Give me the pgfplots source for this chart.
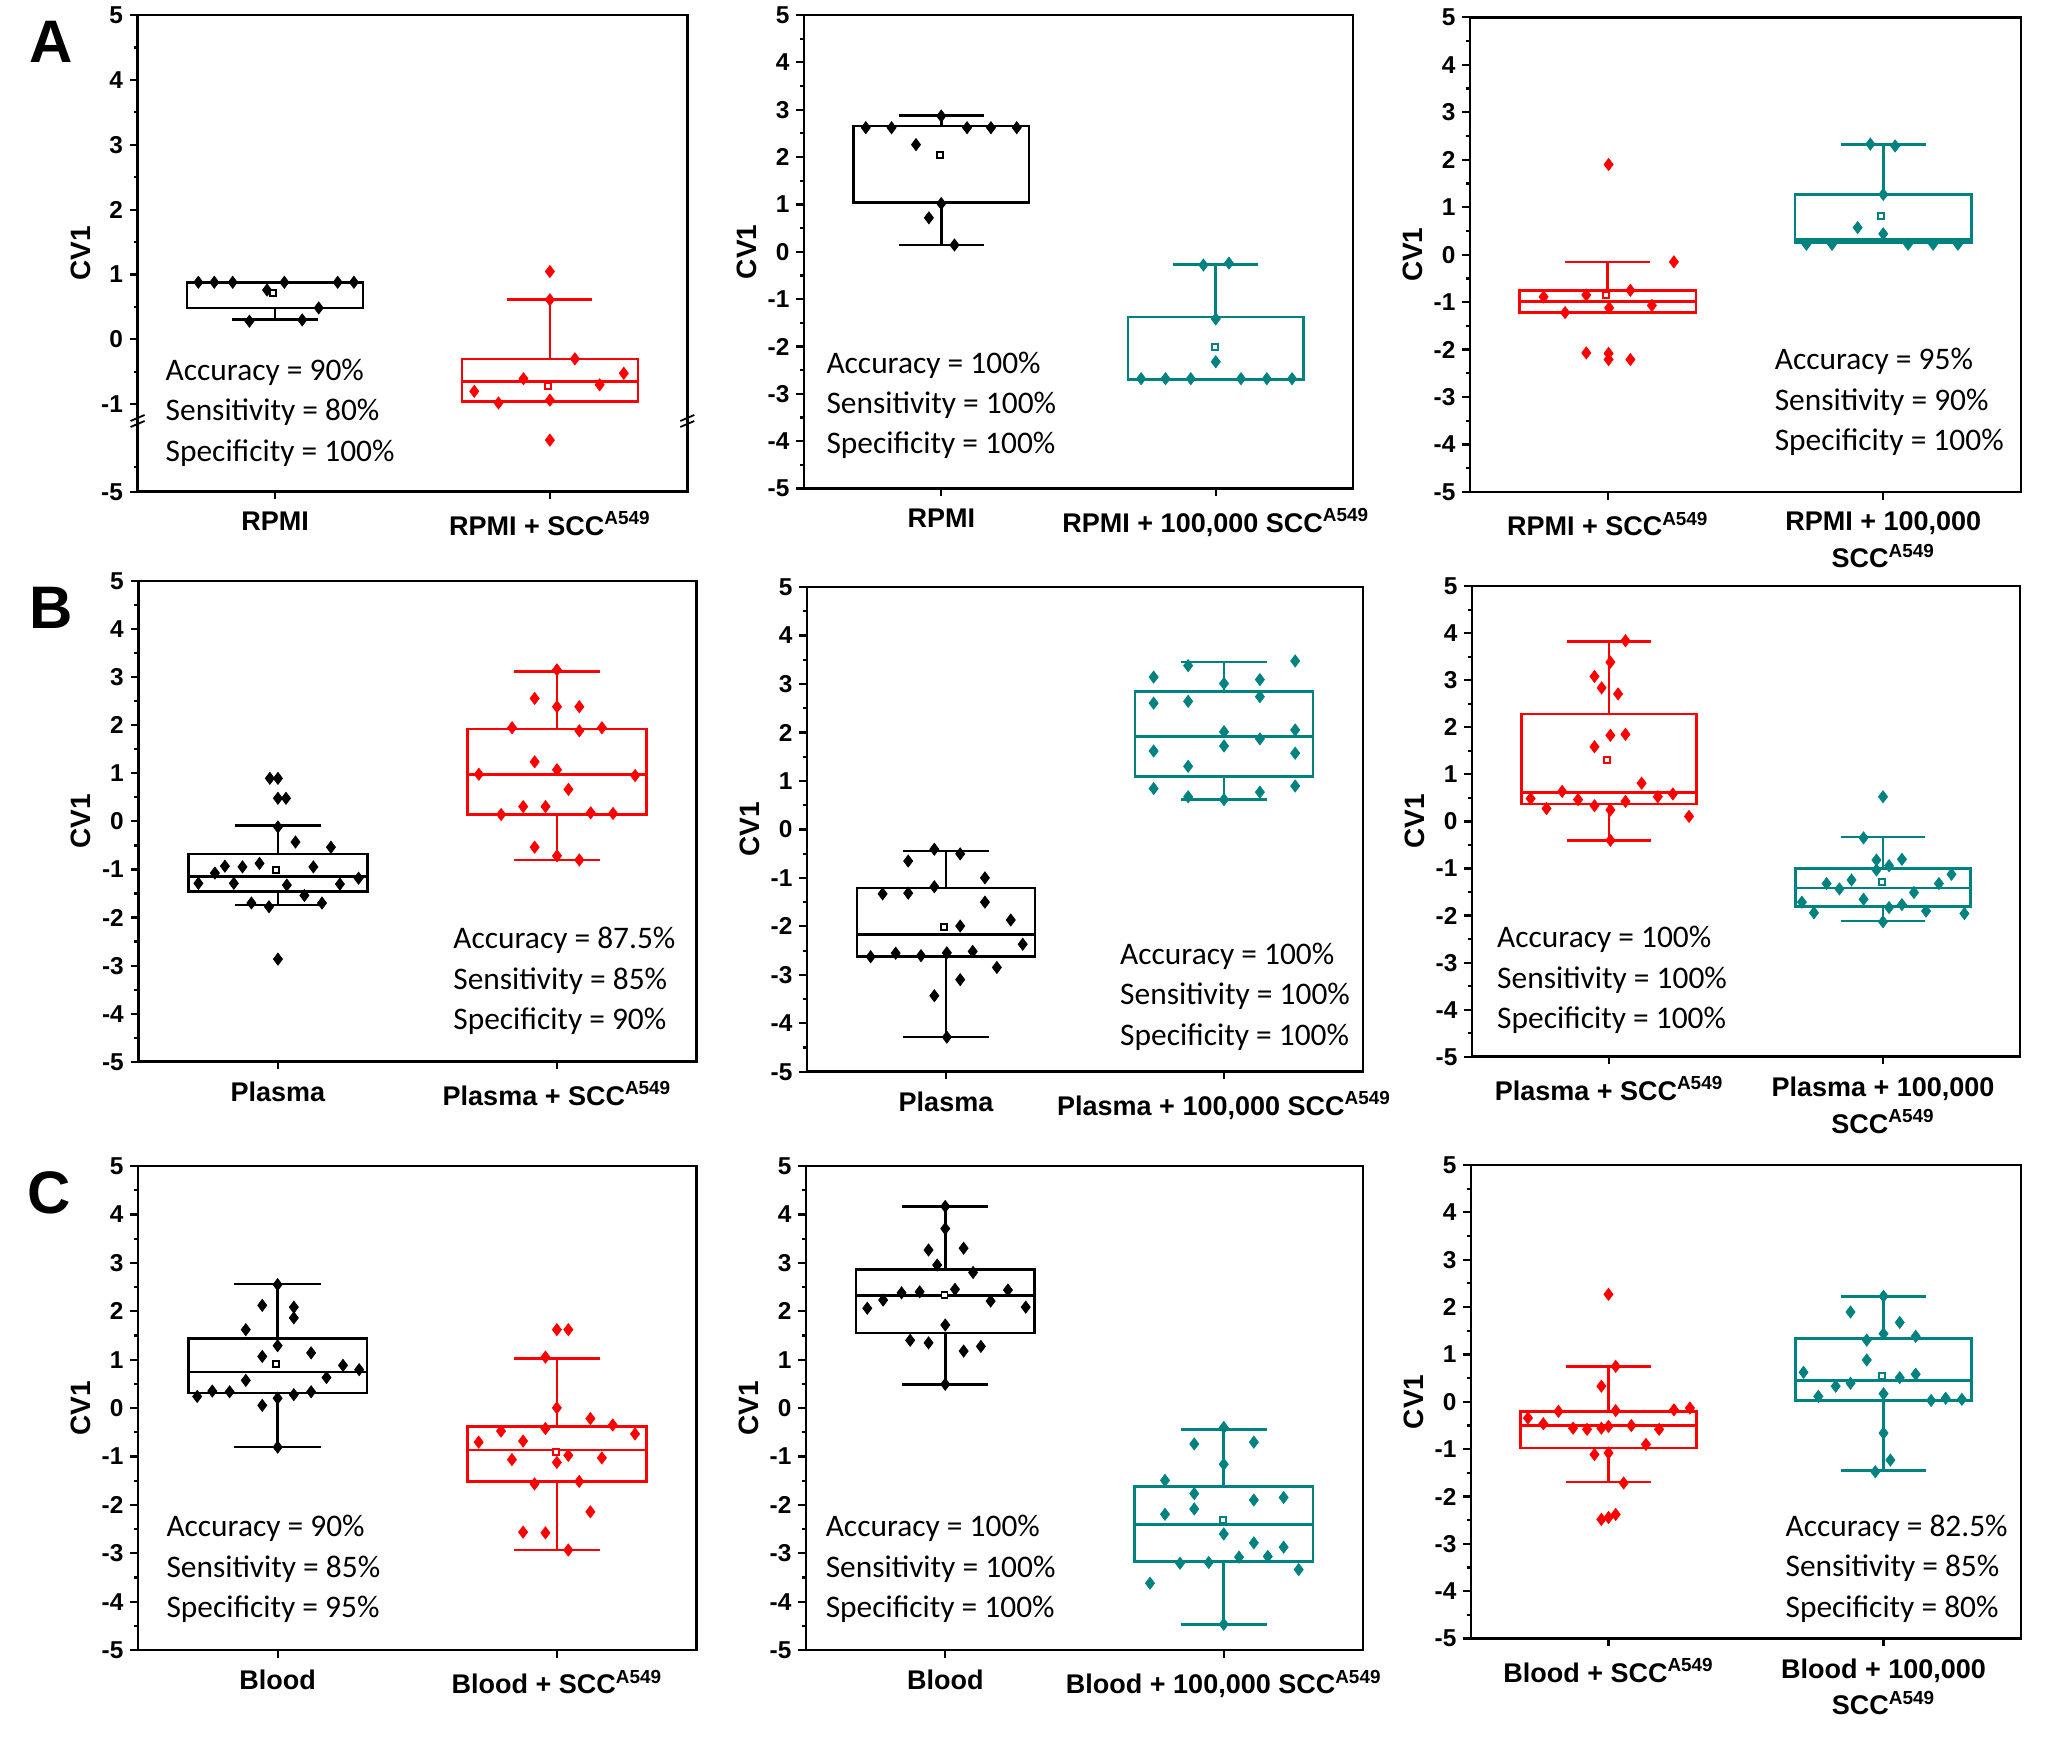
\documentclass[border=0pt]{standalone}
\usepackage{fontspec}
\setmainfont{Liberation Sans}
\newfontfamily\carl{Carlito}
\usepackage{pgfplots}
\pgfplotsset{compat=1.18}
\usepgfplotslibrary{statistics}
\definecolor{redc}{RGB}{255,0,0}
\definecolor{tealc}{RGB}{0,130,128}

\pgfplotsset{panel/.style={
  scale only axis, anchor=south west,
  xmin=0.5, xmax=2.5, ymin=-5, ymax=5,
  xtick={1,2},
  ytick={-5,-4,...,5},
  yticklabels={-5,-4,-3,-2,-1,0,1,2,3,4,5},
  minor ytick={-4.5,-3.5,...,4.5},
  tick align=outside, xtick pos=left, ytick pos=left,
  major tick length=3.8pt, minor tick length=2pt,
  axis line style={line width=1.3pt},
  tick style={line width=1.1pt, black},
  yticklabel style={font=\bfseries\fontsize{12.2}{14}\selectfont},
  xticklabel style={font=\bfseries\fontsize{13.5}{18.4}\selectfont, align=center, anchor=north, yshift=-2.6pt},
  ylabel={CV1},
  ylabel style={font=\bfseries\fontsize{14}{16}\selectfont, at={([xshift=-28.6pt]axis description cs:0,0.5)}, anchor=center},
  clip=false,
  boxplot/draw direction=y,
  boxplot/every box/.style={line width=1.3pt},
  boxplot/every whisker/.style={line width=1.3pt},
  boxplot/every median/.style={line width=1.3pt},
}}

% box: pos, median, uq, lq, uw, lw, colour
\newcommand{\bx}[7]{\addplot[color=#7, line width=1.3pt, solid, boxplot prepared={draw position=#1, median=#2, upper quartile=#3, lower quartile=#4, upper whisker=#5, lower whisker=#6, box extend=0.64, whisker extend=0.31}] coordinates {};}
\newcommand{\pts}[2]{\addplot[only marks, mark=diamond*, mark size=3pt, color=#1, mark options={solid, line width=0.4pt}] coordinates {#2};}
\newcommand{\mn}[2]{\addplot[only marks, mark=square*, mark size=1.5pt, mark options={solid, fill=white, draw=#1, line width=0.9pt}] coordinates {#2};}
\newcommand{\ann}[5]{\path (#1pt,#2pt) node[anchor=base west, inner sep=0pt, font=\carl\fontsize{15.7}{18}\selectfont] {Accuracy = #3}
  ++(0,-20.2pt) node[anchor=base west, inner sep=0pt, font=\carl\fontsize{15.7}{18}\selectfont] {Sensitivity = #4}
  ++(0,-20.2pt) node[anchor=base west, inner sep=0pt, font=\carl\fontsize{15.7}{18}\selectfont] {Specificity = #5};}

\begin{document}
\begin{tikzpicture}
\useasboundingbox (0,0) rectangle (1032.5pt,869pt);

% ---------------- A1 (broken axis, visual coordinates below the break)
\begin{axis}[panel, at={(68.8pt,623.1pt)}, width=274.85pt, height=238.4pt,
  ymin=-2.349, ytick={-2.349,-1,0,1,2,3,4,5}, yticklabels={-5,-1,0,1,2,3,4,5},
  minor ytick={-1.967,-0.5,0.5,1.5,2.5,3.5,4.5},
  xticklabels={{RPMI},{RPMI + SCC\textsuperscript{A549}}}]
\bx{1}{0.881}{0.881}{0.485}{0.881}{0.303}{black}
\pts{black}{(0.721,0.88) (0.779,0.88) (0.846,0.88) (1.034,0.88) (1.228,0.88) (1.287,0.88) (0.971,0.76) (1.159,0.485) (0.907,0.28) (1.099,0.30)}
\mn{black}{(0.993,0.716)}
\bx{2}{-0.650}{-0.303}{-0.953}{0.617}{-0.953}{redc}
\pts{redc}{(2,1.046) (2,0.61) (2.091,-0.30) (1.904,-0.606) (2.269,-0.523) (1.725,-0.80) (2.181,-0.70) (1.813,-0.98) (2,-0.936) (2,-1.553)}
\mn{redc}{(1.993,-0.716)}
\draw[white, line width=2.4pt] (axis cs:0.5,-1.258) ++(0,-1.5pt) -- ++(0,3pt);
\draw[line width=0.9pt] (axis cs:0.5,-1.258) ++(-3.5pt,-3pt) -- ++(7pt,3pt);
\draw[line width=0.9pt] (axis cs:0.5,-1.258) ++(-3.5pt,0pt) -- ++(7pt,3pt);
\draw[white, line width=2.4pt] (axis cs:2.5,-1.258) ++(0,-1.5pt) -- ++(0,3pt);
\draw[line width=0.9pt] (axis cs:2.5,-1.258) ++(-3.5pt,-3pt) -- ++(7pt,3pt);
\draw[line width=0.9pt] (axis cs:2.5,-1.258) ++(-3.5pt,0pt) -- ++(7pt,3pt);
\end{axis}

% ---------------- A2
\begin{axis}[panel, at={(402.0pt,624.7pt)}, width=274.5pt, height=236.8pt,
  xticklabels={{RPMI},{RPMI + 100,000 SCC\textsuperscript{A549}}}]
\bx{1}{2.655}{2.655}{1.041}{2.881}{0.143}{black}
\pts{black}{(0.725,2.62) (0.819,2.62) (1.094,2.62) (1.181,2.62) (1.275,2.62) (1,2.866) (0.908,2.262) (1,1.018) (0.955,0.716) (1.048,0.143)}
\mn{black}{(0.996,2.051)}
\bx{2}{-2.692}{-1.380}{-2.692}{-0.264}{-2.692}{tealc}
\pts{tealc}{(1.955,-0.28) (2.048,-0.24) (2,-1.418) (2,-2.323) (1.728,-2.68) (1.817,-2.68) (1.909,-2.68) (2.092,-2.68) (2.186,-2.68) (2.278,-2.68)}
\mn{tealc}{(1.996,-2.014)}
\end{axis}

% ---------------- A3
\begin{axis}[panel, at={(735.0pt,623.0pt)}, width=275.5pt, height=237.3pt,
  xticklabels={{RPMI + SCC\textsuperscript{A549}},{RPMI + 100,000\\SCC\textsuperscript{A549}}}]
\bx{1}{-0.986}{-0.752}{-1.220}{-0.152}{-1.220}{redc}
\pts{redc}{(1.003,1.9) (1.240,-0.152) (1.082,-0.75) (0.767,-0.89) (0.922,-0.85) (1.005,-1.12) (1.160,-1.07) (0.845,-1.22) (0.922,-2.07) (1.003,-2.08) (1.003,-2.21) (1.082,-2.21)}
\mn{redc}{(0.995,-0.846)}
\bx{2}{0.316}{1.274}{0.261}{2.327}{0.261}{tealc}
\pts{tealc}{(1.953,2.33) (2.043,2.29) (2,1.27) (1.907,0.57) (2,0.44) (1.721,0.22) (1.814,0.22) (2.090,0.22) (2.181,0.22) (2.271,0.22)}
\mn{tealc}{(1.992,0.822)}
\end{axis}

% ---------------- B1
\begin{axis}[panel, at={(69.2pt,338.1pt)}, width=279.05pt, height=240.4pt,
  xticklabels={{Plasma},{Plasma + SCC\textsuperscript{A549}}}]
\bx{1}{-1.146}{-0.681}{-1.454}{-0.086}{-1.741}{black}
\pts{black}{(0.971,0.895) (1,0.895) (1,0.48) (1.029,0.48) (1,-0.116) (1.063,-0.43) (1.190,-0.537) (0.810,-0.931) (0.873,-0.946) (0.934,-0.874) (1.127,-0.946) (0.774,-1.074) (0.715,-1.289) (0.842,-1.289) (1.032,-1.325) (1.222,-1.304) (1.289,-1.182) (1.095,-1.54) (0.905,-1.698) (1.158,-1.698) (0.968,-1.776) (1,-2.865)}
\mn{black}{(0.993,-1.003)}
\bx{2}{0.981}{1.920}{0.143}{3.116}{-0.802}{redc}
\pts{redc}{(2,3.152) (1.920,2.557) (2,2.385) (2.080,2.385) (1.839,1.948) (2.161,1.948) (2.080,1.884) (1.920,1.239) (2,1.075) (1.720,0.981) (2.280,0.953) (2.041,0.666) (1.879,0.308) (1.959,0.308) (1.800,0.143) (2.121,0.179) (2.201,0.165) (1.920,-0.537) (2,-0.716) (2.080,-0.802)}
\end{axis}

% ---------------- B2
\begin{axis}[panel, at={(403.5pt,333.1pt)}, width=278.0pt, height=242.35pt,
  xticklabels={{Plasma},{Plasma + 100,000 SCC\textsuperscript{A549}}}]
\bx{1}{-2.163}{-1.205}{-2.627}{-0.446}{-4.285}{black}
\pts{black}{(0.958,-0.409) (1.051,-0.505) (0.864,-0.652) (1.140,-0.999) (0.958,-1.183) (0.772,-1.330) (0.864,-1.315) (1.140,-1.500) (1.233,-1.868) (1.051,-1.993) (1.276,-2.369) (0.729,-2.627) (0.819,-2.553) (0.910,-2.605) (1.003,-2.546) (1.096,-2.517) (1.183,-2.848) (1.051,-3.099) (0.958,-3.431) (1.003,-4.285)}
\mn{black}{(0.992,-2.015)}
\bx{2}{1.912}{2.848}{1.094}{3.452}{0.615}{tealc}
\pts{tealc}{(1.871,3.379) (2.256,3.475) (1.747,3.143) (2,3.010) (2.129,3.091) (1.747,2.605) (1.871,2.642) (2.129,2.738) (2,2.015) (2.256,2.052) (2.129,1.868) (2,1.721) (1.747,1.618) (2.256,1.573) (1.871,1.301) (1.747,0.844) (2.256,0.895) (2.129,0.770) (1.871,0.674) (2,0.615)}
\end{axis}

% ---------------- B3
\begin{axis}[panel, at={(736.0pt,340.6pt)}, width=274.0pt, height=235.35pt,
  xticklabels={{Plasma + SCC\textsuperscript{A549}},{Plasma + 100,000\\SCC\textsuperscript{A549}}}]
\bx{1}{0.615}{2.284}{0.372}{3.824}{-0.402}{redc}
\pts{redc}{(1.060,3.839) (1.005,3.384) (0.947,3.080) (0.973,2.838) (1.033,2.709) (1.005,1.829) (1.060,1.851) (0.947,1.586) (1.119,0.812) (0.829,0.637) (0.714,0.486) (0.887,0.463) (0.947,0.334) (1.060,0.425) (1.178,0.524) (1.233,0.584) (0.772,0.273) (1.005,0.243) (1.292,0.106) (1.005,-0.402)}
\mn{redc}{(0.994,1.297)}
\bx{2}{-1.411}{-0.994}{-1.813}{-0.334}{-2.117}{tealc}
\pts{tealc}{(2,0.524) (1.929,-0.349) (1.976,-0.820) (2.069,-0.804) (2.022,-0.941) (1.976,-1.032) (2.250,-1.123) (1.885,-1.244) (2.204,-1.320) (1.794,-1.320) (1.841,-1.434) (2.113,-1.510) (1.929,-1.654) (1.704,-1.715) (2.069,-1.768) (2.022,-1.829) (2.157,-1.904) (1.748,-1.942) (2.297,-1.958) (2,-2.132)}
\mn{tealc}{(1.995,-1.282)}
\end{axis}

% ---------------- C1
\begin{axis}[panel, at={(69.0pt,44.0pt)}, width=279.25pt, height=241.95pt,
  xticklabels={{Blood},{Blood + SCC\textsuperscript{A549}}}]
\bx{1}{0.742}{1.443}{0.314}{2.565}{-0.808}{black}
\pts{black}{(1,2.550) (0.945,2.122) (1.058,2.085) (1.058,1.863) (0.886,1.620) (1,1.288) (0.945,1.066) (1.120,1.140) (1.234,0.882) (1.292,0.793) (1.175,0.631) (0.886,0.572) (0.766,0.351) (0.828,0.336) (0.712,0.240) (1.058,0.277) (1.120,0.336) (1,0.203) (0.945,0.055) (1,-0.808)}
\mn{black}{(0.993,0.904)}
\bx{2}{-0.867}{-0.387}{-1.517}{1.030}{-2.934}{redc}
\pts{redc}{(2,1.620) (2.041,1.620) (1.959,1.052) (2,0.004) (2.120,-0.218) (2.200,-0.351) (1.800,-0.476) (1.959,-0.424) (2.280,-0.535) (1.720,-0.705) (1.879,-0.683) (2.041,-0.978) (2.161,-1.030) (1.839,-1.066) (2,-1.125) (2.080,-1.517) (1.920,-1.568) (2.120,-2.144) (1.879,-2.565) (1.959,-2.579) (2.041,-2.934)}
\mn{redc}{(1.996,-0.904)}
\end{axis}

% ---------------- C2
\begin{axis}[panel, at={(403.0pt,44.0pt)}, width=278.5pt, height=241.95pt,
  xticklabels={{Blood},{Blood + 100,000 SCC\textsuperscript{A549}}}]
\bx{1}{2.328}{2.860}{1.554}{4.166}{0.491}{black}
\pts{black}{(1,4.166) (1,3.708) (0.940,3.266) (1.066,3.303) (0.971,2.956) (1.100,2.801) (0.720,2.063) (0.777,2.232) (0.843,2.380) (0.908,2.402) (1.035,2.454) (1.163,2.210) (1.225,2.439) (1.289,2.085) (1,1.716) (0.874,1.399) (0.940,1.347) (1.066,1.177) (1.128,1.273) (1,0.491)}
\mn{black}{(0.997,2.33)}
\bx{2}{-2.402}{-1.627}{-3.177}{-0.446}{-4.469}{tealc}
\pts{tealc}{(2,-0.402) (1.894,-0.742) (2.108,-0.705) (2,-1.162) (1.789,-1.494) (1.894,-1.768) (2.108,-1.900) (2.215,-1.849) (1.894,-2.085) (1.789,-2.196) (2,-2.601) (2.108,-2.786) (2.215,-2.875) (2.158,-3.066) (2.055,-3.081) (1.843,-3.207) (1.946,-3.192) (2.269,-3.339) (1.735,-3.620) (2,-4.469)}
\mn{tealc}{(1.997,-2.306)}
\end{axis}

% ---------------- C3
\begin{axis}[panel, at={(735.5pt,49.7pt)}, width=275.0pt, height=236.8pt,
  xticklabels={{Blood + SCC\textsuperscript{A549}},{Blood + 100,000\\SCC\textsuperscript{A549}}}]
\bx{1}{-0.503}{-0.202}{-0.978}{0.740}{-1.690}{redc}
\pts{redc}{(1,2.268) (1.026,0.748) (0.974,0.329) (0.707,-0.344) (0.818,-0.202) (1.026,-0.186) (1.238,-0.170) (1.296,-0.131) (0.763,-0.463) (0.871,-0.558) (0.922,-0.582) (0.974,-0.558) (1,-0.519) (1.083,-0.503) (1.184,-0.582) (1.136,-0.899) (0.949,-1.113) (1,-1.081) (1.055,-1.714) (0.974,-2.482) (1,-2.443) (1.026,-2.379)}
\bx{2}{0.447}{1.334}{0.028}{2.229}{-1.453}{tealc}
\pts{tealc}{(2,2.229) (1.880,1.896) (2.059,1.675) (2,1.437) (1.939,1.302) (2.117,1.382) (1.939,0.883) (1.709,0.622) (2.117,0.582) (2.059,0.511) (1.880,0.392) (1.826,0.329) (2,0.170) (1.763,0.115) (2.173,0.028) (2.226,0.075) (2.285,0.052) (2,-0.661) (2.025,-1.231) (1.970,-1.477)}
\mn{tealc}{(1.994,0.542)}
\end{axis}

% ---------------- annotations
\ann{82.65}{678.8}{90\%}{80\%}{100\%}
\ann{413.05}{682.4}{100\%}{100\%}{100\%}
\ann{887.2}{684.0}{95\%}{90\%}{100\%}
\ann{226.5}{394.6}{87.5\%}{85\%}{90\%}
\ann{559.9}{386.7}{100\%}{100\%}{100\%}
\ann{748.4}{395.05}{100\%}{100\%}{100\%}
\ann{83.05}{100.6}{90\%}{85\%}{95\%}
\ann{412.7}{100.6}{100\%}{100\%}{100\%}
\ann{892.6}{100.85}{82.5\%}{85\%}{80\%}

% ---------------- panel letters
\node[font=\bfseries\fontsize{30}{32}\selectfont] at (25.8pt,848.2pt) {A};
\node[font=\bfseries\fontsize{30}{32}\selectfont] at (25.4pt,565pt) {B};
\node[font=\bfseries\fontsize{30}{32}\selectfont] at (24.8pt,272.5pt) {C};
\end{tikzpicture}
\end{document}
